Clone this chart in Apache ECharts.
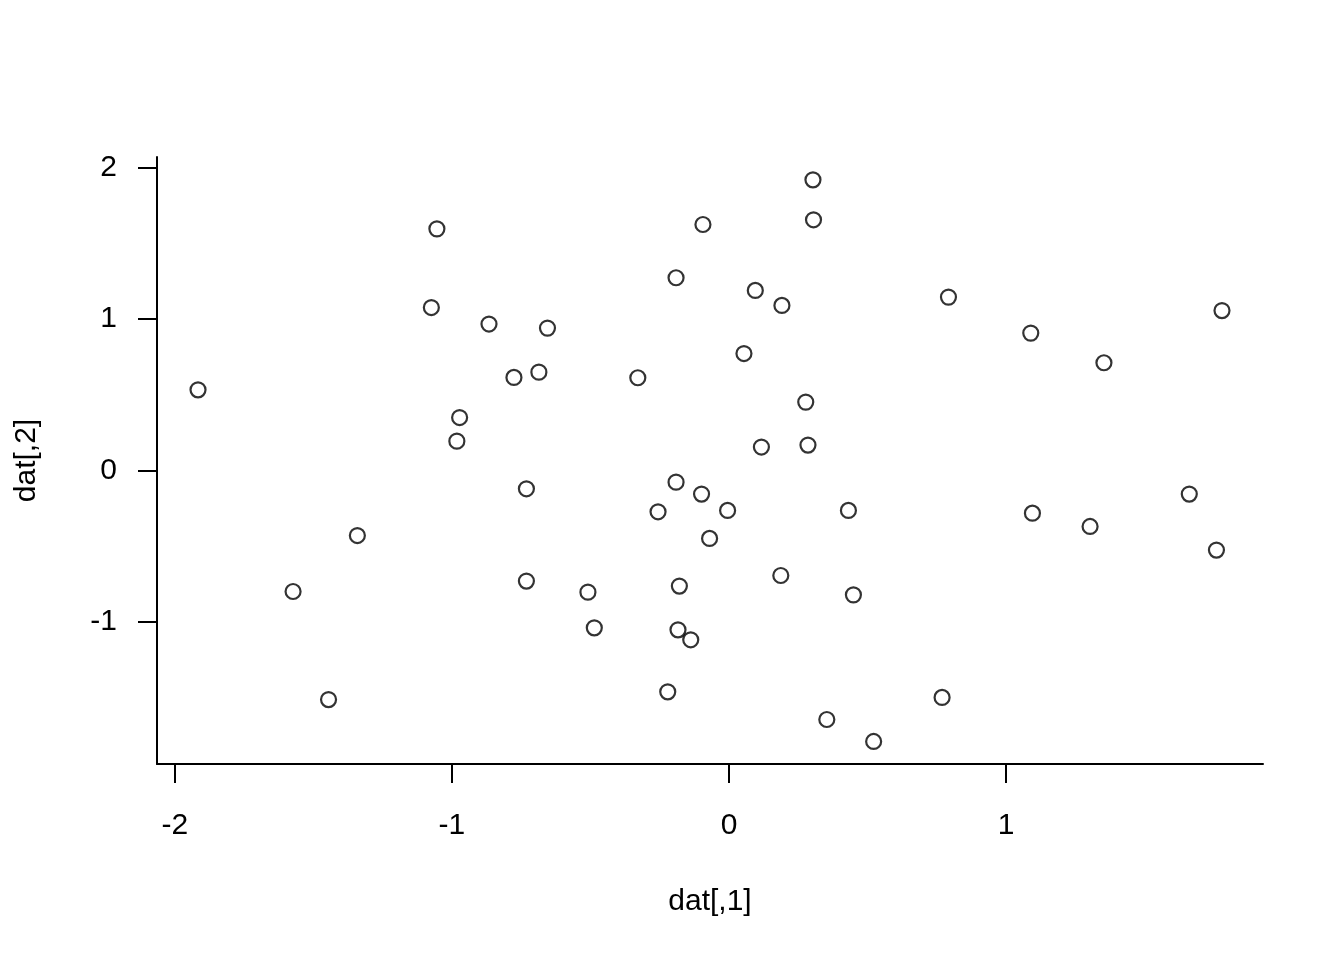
<!DOCTYPE html>
<html>
<head>
<meta charset="utf-8">
<script src="https://cdn.jsdelivr.net/npm/echarts@6/dist/echarts.min.js"></script>
<style>
html,body{margin:0;padding:0;background:#fff;}
#chart{width:1344px;height:960px;}
</style>
</head>
<body>
<div id="chart"></div>
<script>
// dat[,1] values
const xValues = [
  -1.916, -1.054, -1.074, -0.866, -0.655, -0.776, -0.686, -0.972, -0.982, -0.329,
  -0.191, -0.094, 0.095, 0.191, 0.054, 0.303, 0.305, 0.277, 0.285, 0.117,
  0.792, 1.089, 1.353, 1.779, -0.731, -0.191, -0.099, -0.256, -0.005, 0.431,
  -0.070, 1.095, 1.303, 1.661, 1.759, -1.341, -1.573, -0.731, -0.509, -0.486,
  -0.179, -0.184, -0.138, 0.187, 0.449, -1.445, -0.221, 0.353, 0.522, 0.769
];
// dat[,2] values
const yValues = [
  0.533, 1.597, 1.077, 0.968, 0.941, 0.615, 0.650, 0.350, 0.194, 0.613,
  1.274, 1.626, 1.190, 1.091, 0.773, 1.921, 1.657, 0.452, 0.168, 0.155,
  1.146, 0.908, 0.712, 1.057, -0.121, -0.077, -0.156, -0.273, -0.264, -0.264,
  -0.449, -0.282, -0.370, -0.156, -0.526, -0.430, -0.800, -0.731, -0.804, -1.040,
  -0.764, -1.053, -1.119, -0.694, -0.822, -1.514, -1.463, -1.646, -1.791, -1.500
];
const xTicks = [-2, -1, 0, 1];
const yTicks = [-1, 0, 1, 2];
const xTitle = 'dat[,1]';
const yTitle = 'dat[,2]';

const points = xValues.map((x, i) => [x, yValues[i]]);

const FONT = '"Liberation Sans", Arial, Helvetica, sans-serif';
const chart = echarts.init(document.getElementById('chart'), null, {renderer: 'canvas'});
chart.setOption({
  backgroundColor: '#ffffff',
  animation: false,
  grid: {left: 157, right: 81, top: 157, bottom: 196, containLabel: false},
  xAxis: {
    type: 'value',
    min: -2.064, max: 1.927,
    name: xTitle,
    nameLocation: 'middle',
    nameGap: 138,
    nameTextStyle: {fontFamily: FONT, fontSize: 30, color: '#000', verticalAlign: 'middle'},
    axisLine: {show: true, onZero: false, lineStyle: {color: '#000', width: 2}},
    axisTick: {show: true, inside: false, length: 19, customValues: xTicks, lineStyle: {color: '#000', width: 2}},
    axisLabel: {show: true, customValues: xTicks, margin: 62, verticalAlign: 'middle', fontFamily: FONT, fontSize: 30, color: '#000'},
    splitLine: {show: false}
  },
  yAxis: {
    type: 'value',
    min: -1.940, max: 2.072,
    name: yTitle,
    nameLocation: 'middle',
    nameGap: 130,
    nameTextStyle: {fontFamily: FONT, fontSize: 30, color: '#000', verticalAlign: 'middle'},
    axisLine: {show: true, onZero: false, lineStyle: {color: '#000', width: 2}},
    axisTick: {show: true, inside: false, length: 19, customValues: yTicks, lineStyle: {color: '#000', width: 2}},
    axisLabel: {show: true, customValues: yTicks, margin: 40, fontFamily: FONT, fontSize: 30, color: '#000', verticalAlign: 'middle', padding: [7, 0, 0, 0]},
    splitLine: {show: false}
  },
  series: [{
    type: 'scatter',
    data: points,
    symbol: 'circle',
    symbolSize: 15,
    itemStyle: {color: 'rgba(255,255,255,0)', borderColor: '#000', borderWidth: 2.2},
    emphasis: {disabled: true}
  }]
});
</script>
</body>
</html>
